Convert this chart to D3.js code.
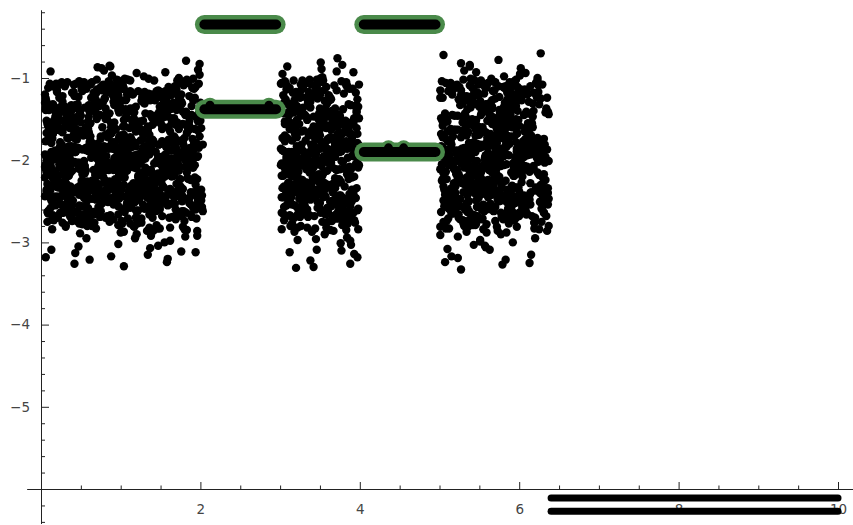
<!DOCTYPE html>
<html>
<head>
<meta charset="utf-8">
<script src="https://cdn.jsdelivr.net/npm/d3@7"></script>
<style>
  body { margin: 0; background: #fff; }
</style>
</head>
<body>
<div id="chart"></div>
<script>
// scatter block on 0..2
const aX = [
  0.12,1.57,0.84,1.93,0.31,1.12,0.66,1.78,0.05,1.41,0.97,0.23,1.65,0.49,1.86,0.74,1.29,0.17,1.03,1.99,
  0.58,1.34,0.09,1.72,0.91,0.38,1.51,0.27,1.88,0.69,1.16,0.44,2.01,0.81,1.47,0.14,1.24,0.63,1.81,0.35,
  1.09,0.52,1.69,0.21,1.95,0.77,1.38,0.06,1.59,0.99,0.41,1.83,0.29,1.21,0.88,1.67,0.13,1.44,0.56,1.91,
  0.72,1.06,0.33,1.75,0.19,1.53,0.94,0.47,1.27,1.97,0.61,0.08,1.36,0.83,1.62,0.26,1.14,0.71,1.89,0.43,
  1.49,0.16,0.96,1.79,0.54,1.31,0.07,1.73,0.87,0.39,1.18,2.02,0.64,1.55,0.24,1.01,0.79,1.85,0.11,1.42,
  0.93,1.63,0.36,1.26,0.68,1.96,0.22,1.08,0.51,1.71,0.85,0.15,1.39,1.87,0.62,1.19,0.34,1.58,0.98,0.76,
  1.84,0.45,1.11,0.18,1.66,0.89,1.32,0.57,2.03,0.28,1.45,0.73,1.04,0.10,1.76,0.53,1.22,0.92,1.61,0.37,
  0.65,1.90,0.25,1.35,0.82,1.54,0.06,1.17,0.46,1.80,0.95,0.32,1.68,1.00,0.59,1.43,0.20,1.94,0.78,1.28,
  1.13,0.42,1.74,0.70,1.50,0.11,1.02,1.92,0.55,1.25,0.86,0.30,1.64,0.97,1.37,0.19,1.82,0.61,1.07,0.48,
  1.56,0.80,0.14,1.30,1.98,0.67,1.20,0.40,1.70,0.90,0.08,1.46,0.75,1.88,0.33,1.10,0.60,1.60,0.24,1.34,
  0.87,1.78,0.50,1.15,0.21,1.52,0.96,1.95,0.35,1.27,0.71,1.05,0.16,1.67,0.83,1.40,0.44,1.85,0.63,1.23,
  0.09,1.62,1.01,0.57,1.81,0.28,1.36,0.79,2.00,0.47,1.18,0.92,1.48,0.13,1.73,0.66,1.06,0.38,1.58,0.85,
  1.97,0.31,1.12,0.74,1.44,0.05,1.69,0.53,1.29,0.98,0.20,1.90,0.62,1.16,0.42,1.54,0.88,1.77,0.27,1.03,
  0.69,1.39,0.17,1.84,0.94,1.22,0.46,1.63,0.07,1.08,0.78,1.93,0.36,1.49,0.59,1.31,0.99,0.25,1.71,0.52,
  1.26,0.84,1.57,0.12,1.99,0.64,1.14,0.39,1.76,0.91,0.22,1.42,0.73,1.87,0.49,1.04,1.65,0.30,1.19,0.81,
  0.55,1.80,0.95,0.18,1.35,0.68,1.59,0.06,1.96,0.43,1.25,0.86,1.52,0.26,1.11,0.72,1.70,0.37,1.45,0.97,
  1.83,0.29,1.07,0.60,1.64,0.14,1.33,0.89,1.91,0.50,1.17,0.76,1.47,0.10,1.74,0.41,1.02,1.56,0.65,1.28,
  0.33,1.68,0.82,1.21,0.08,1.88,0.58,1.40,0.94,0.20,1.61,0.70,1.99,0.47,1.13,0.87,1.37,0.15,1.79,1.05,
  0.62,1.51,0.24,1.15,0.79,1.86,0.40,1.30,0.98,0.11,1.72,0.54,1.24,0.90,1.55,0.32,2.02,0.75,1.09,0.45,
  1.43,0.18,1.66,0.85,1.20,0.52,1.94,0.28,1.00,0.67,1.48,0.07,1.78,0.96,1.34,0.39,1.62,0.80,1.12,0.23,
  0.92,1.73,0.44,1.27,0.13,1.59,0.71,1.90,0.57,1.05,0.34,1.41,0.83,1.85,0.19,1.16,0.64,1.53,0.99,0.48,
  1.69,0.27,1.10,0.77,1.46,0.05,1.82,0.61,1.23,0.93,0.37,1.64,0.74,1.97,0.43,1.29,0.88,1.58,0.16,1.07,
  0.54,1.36,0.86,1.75,0.21,1.18,0.66,1.50,0.10,1.92,0.81,1.03,0.45,1.67,0.30,1.39,0.97,1.81,0.60,1.25,
  1.12,0.73,1.60,0.35,1.87,0.91,0.15,1.44,0.69,1.21,0.50,1.76,0.26,1.08,1.96,0.63,1.32,0.84,1.54,0.40,
  0.78,1.63,0.20,1.19,0.95,1.84,0.46,1.37,0.09,1.71,0.59,1.14,0.87,1.49,0.32,2.01,0.72,1.28,0.51,1.66,
  1.45,0.12,1.01,0.68,1.79,0.38,1.26,0.90,1.56,0.24,1.93,0.76,1.16,0.55,1.38,0.07,1.70,0.99,0.42,1.85,
  0.64,1.31,0.85,1.52,0.17,1.89,0.48,1.09,0.73,1.65,0.33,1.22,0.96,1.77,0.56,1.42,0.14,1.04,1.61,0.80,
  1.35,0.58,1.95,0.29,1.17,0.70,1.47,0.06,1.83,0.89,1.27,0.44,1.68,0.22,1.00,0.61,1.58,0.93,1.13,1.74,
  0.27,1.83,0.62,1.14,0.08,1.49,0.93,1.71,0.41,1.26,0.79,1.98,0.18,1.57,0.55,1.05,1.36,0.33,1.90,0.70,
  1.44,0.12,1.02,0.58,1.77,0.36,1.21,0.85,1.64,0.05,1.31,0.97,0.47,1.86,0.23,1.10,0.66,1.53,0.89,2.01,
  0.74,1.60,0.30,1.17,1.93,0.52,1.40,0.14,1.08,0.81,1.69,0.43,1.25,0.96,0.20,1.80,0.60,1.34,0.07,1.50,
  1.12,0.39,1.74,0.87,0.16,1.45,0.68,1.96,0.31,1.03,1.58,0.49,1.29,0.76,1.87,0.11,1.19,0.94,0.56,1.67,
  0.84,1.37,0.21,1.62,0.99,0.45,1.82,0.64,1.15,0.06,1.47,0.73,1.91,0.35,1.24,0.90,0.13,1.56,1.00,0.53,
  1.70,0.28,1.07,0.59,1.42,0.17,1.88,0.80,1.33,0.48,1.61,0.09,0.95,1.78,0.37,1.20,0.71,1.52,0.24,2.02,
  0.44,1.16,0.86,1.95,0.19,1.38,0.63,1.73,0.10,1.27,0.92,0.32,1.59,1.04,0.54,1.84,0.78,1.11,0.26,1.46,
  1.66,0.50,1.22,0.07,1.89,0.69,1.35,0.98,0.15,1.55,0.40,1.79,0.82,1.09,0.29,1.63,0.57,1.99,0.88,1.30,
  0.22,1.48,0.75,1.13,1.85,0.34,1.01,0.61,1.72,0.12,1.39,0.91,0.46,1.94,0.67,1.18,0.05,1.58,0.83,1.28,
  1.06,0.58,1.81,0.25,1.34,0.97,0.14,1.65,0.72,1.23,0.42,1.92,0.87,0.31,1.51,1.08,0.65,1.76,0.18,1.43,
  0.53,1.90,0.38,1.20,0.80,1.60,0.09,1.37,0.95,0.27,1.74,0.62,1.14,1.97,0.47,1.02,0.74,1.54,0.20,1.83,
  1.31,0.16,0.99,1.68,0.56,1.26,0.36,1.87,0.85,1.10,0.06,1.45,0.69,1.77,0.43,1.17,0.93,0.24,1.62,0.77,
  1.93,0.60,1.40,0.11,1.06,0.81,1.72,0.33,1.24,0.51,1.85,0.96,0.19,1.49,0.70,1.33,0.08,1.58,1.00,0.39,
  0.66,1.79,0.29,1.15,0.90,1.55,0.45,2.00,0.13,1.28,0.76,1.67,0.57,1.04,0.23,1.41,0.86,1.88,0.35,1.19,
  1.50,0.05,0.92,1.75,0.48,1.36,0.18,1.63,1.01,0.71,1.96,0.27,1.12,0.83,1.45,0.55,1.81,0.10,1.22,0.63,
  0.37,1.27,0.79,1.91,0.15,1.52,0.97,0.50,1.69,0.06,1.09,0.73,1.38,0.30,1.84,0.88,1.16,0.61,1.59,1.03,
  1.78,0.41,1.13,0.68,1.47,0.21,1.97,0.85,1.30,0.12,1.64,0.58,1.05,0.94,0.34,1.73,0.47,1.25,0.77,1.90,
  0.96,0.26,1.57,1.11,0.64,1.86,0.40,1.35,0.08,1.70,0.82,1.20,0.53,1.44,0.17,1.99,0.72,1.07,1.61,0.32,
  1.42,0.87,0.11,1.67,0.59,1.24,0.44,1.80,0.98,0.20,1.53,0.75,1.17,1.92,0.38,1.02,0.64,1.32,0.06,1.76,
  0.49,1.08,1.83,0.31,1.48,0.91,0.16,1.63,0.69,1.29,0.55,2.03,0.84,1.14,0.27,1.56,1.00,0.42,1.71,0.78,
  1.21,0.67,1.94,0.14,1.39,0.80,1.06,0.52,1.74,0.35,1.18,0.95,0.07,1.60,0.71,1.88,0.46,1.27,0.89,1.50,
  0.19,1.65,0.57,1.11,0.86,1.85,0.28,1.43,0.74,1.00,0.39,1.78,0.62,1.33,0.10,1.55,0.93,1.19,0.50,1.96,
  1.36,0.81,0.24,1.72,1.04,0.45,1.58,0.13,1.26,0.70,1.89,0.36,1.09,0.98,0.58,1.66,0.21,1.46,0.85,1.15,
  0.63,1.92,0.33,1.49,0.77,1.13,0.09,1.81,0.54,1.23,0.92,1.62,0.18,1.39,0.68,1.01,0.43,1.75,0.30,1.57,
  1.05,0.52,1.70,0.25,1.44,0.88,1.98,0.61,1.16,0.37,1.53,0.79,0.12,1.87,0.95,1.30,0.48,1.68,0.73,1.08,
  0.41,1.28,0.90,1.63,0.15,1.12,0.66,1.83,0.32,1.47,1.01,0.56,1.76,0.22,1.37,0.84,1.94,0.60,1.20,0.07,
  1.59,0.75,1.34,0.47,1.91,0.97,0.29,1.52,0.82,1.07,0.16,1.73,0.64,1.41,0.38,1.86,0.93,1.17,0.53,1.66
];
const aY = [
  -2.11,-1.84,-2.37,-1.62,-2.03,-2.58,-1.95,-1.41,-2.21,-1.77,-2.66,-2.09,-1.88,-2.31,-1.53,-2.14,-0.98,-1.99,-2.44,-1.71,
  -2.26,-1.92,-1.58,-2.05,-2.72,-1.83,-2.17,-1.66,-2.39,-1.27,-2.01,-1.89,-2.49,-2.12,-3.04,-1.74,-2.28,-1.97,-1.45,-2.19,
  -1.81,-2.33,-2.07,-1.63,-2.55,-1.91,-2.24,-1.36,-2.02,-2.79,-1.69,-2.15,-1.87,-2.41,-1.55,-2.06,-1.79,-2.62,-2.13,-1.12,
  -2.35,-1.96,-1.73,-2.23,-1.49,-2.08,-2.51,-1.85,-2.16,-1.64,-3.21,-2.00,-1.93,-2.29,-1.38,-2.43,-1.76,-2.10,-2.69,-1.90,
  -2.04,-1.59,-2.27,-1.82,-2.46,-1.98,-1.67,-2.36,-0.86,-2.13,-1.79,-2.57,-1.94,-2.20,-1.51,-2.74,-1.86,-2.09,-1.72,-2.32,
  -1.97,-2.40,-1.61,-2.18,-1.89,-2.86,-1.44,-2.03,-2.25,-1.78,-2.12,-1.57,-2.61,-1.99,-2.34,-1.83,-2.07,-1.30,-2.47,-1.92,
  -2.22,-1.75,-2.52,-1.88,-2.01,-1.66,-2.38,-2.95,-1.81,-2.15,-1.48,-2.06,-2.30,-1.94,-2.68,-1.70,-2.19,-1.86,-1.19,-2.42,
  -1.80,-2.09,-2.54,-1.60,-2.27,-1.95,-2.11,-1.42,-2.64,-1.87,-2.02,-2.37,-1.73,-2.21,-1.53,-2.48,-1.91,-3.12,-2.05,-1.68,
  -2.31,-1.84,-2.08,-1.50,-2.42,-1.96,-2.77,-1.79,-2.14,-1.62,-2.26,-1.35,-1.98,-2.56,-1.90,-2.17,-0.79,-2.35,-1.76,-2.03,
  -1.93,-2.45,-1.69,-2.20,-1.85,-2.63,-2.00,-1.55,-2.29,-1.82,-2.10,-2.83,-1.74,-2.24,-1.46,-2.06,-1.89,-2.39,-1.64,-2.15,
  -2.50,-1.78,-2.12,-1.97,-2.33,-1.58,-2.07,-2.71,-1.83,-1.26,-2.19,-1.92,-2.44,-1.71,-2.02,-2.58,-1.87,-2.23,-1.40,-1.99,
  -2.16,-1.65,-2.36,-1.88,-2.93,-2.04,-1.77,-2.27,-1.52,-2.10,-1.94,-2.47,-1.81,-2.13,-1.62,-2.32,-2.00,-1.33,-2.53,-1.86,
  -1.95,-2.22,-1.72,-2.40,-1.90,-2.08,-1.57,-2.66,-1.84,-2.18,-1.47,-2.01,-2.30,-1.79,-3.26,-2.11,-1.68,-2.43,-1.96,-2.05,
  -2.28,-1.83,-2.14,-1.60,-2.52,-1.93,-2.03,-1.74,-2.38,-1.89,-1.08,-2.21,-1.97,-2.60,-1.70,-2.09,-1.85,-2.34,-1.56,-2.17,
  -1.91,-2.46,-1.80,-2.06,-1.43,-2.25,-1.98,-2.74,-1.76,-2.12,-1.63,-2.35,-1.87,-2.02,-2.89,-1.69,-2.19,-1.94,-2.41,-1.50,
  -2.07,-1.73,-2.31,-1.96,-2.57,-1.82,-2.15,-1.39,-2.23,-1.90,-2.04,-2.50,-1.77,-2.27,-1.61,-2.00,-1.86,-2.69,-1.24,-2.13,
  -1.88,-2.37,-2.02,-1.66,-2.20,-1.93,-2.45,-1.79,-2.09,-1.54,-2.81,-1.97,-2.16,-1.72,-2.33,-1.84,-2.06,-0.93,-2.26,-1.99,
  -2.40,-1.81,-2.11,-1.58,-2.29,-1.95,-2.62,-1.75,-2.03,-1.90,-2.18,-1.45,-2.53,-1.86,-2.08,-1.68,-3.07,-2.22,-1.92,-2.14,
  -1.76,-2.25,-1.97,-2.48,-1.83,-2.05,-1.62,-2.34,-1.89,-2.12,-1.31,-2.01,-2.39,-1.78,-2.20,-1.94,-2.59,-1.71,-2.07,-1.85,
  -2.18,-1.92,-2.43,-1.67,-2.10,-1.87,-2.30,-1.52,-2.00,-2.76,-1.81,-2.15,-1.95,-2.36,-1.59,-2.04,-1.88,-2.24,-1.16,-2.47,
  -1.98,-2.13,-1.73,-2.32,-1.90,-2.55,-1.80,-2.07,-1.64,-2.21,-1.94,-2.86,-1.84,-2.02,-1.48,-2.28,-1.96,-2.11,-1.70,-2.42,
  -2.06,-1.85,-2.38,-1.60,-2.17,-1.93,-2.64,-1.78,-2.01,-2.23,-1.37,-2.09,-1.89,-2.49,-1.74,-2.14,-3.17,-1.97,-2.31,-1.82,
  -2.26,-1.69,-2.04,-1.91,-2.45,-1.79,-2.12,-1.55,-2.35,-1.87,-2.70,-1.99,-1.63,-2.19,-1.93,-2.40,-1.21,-2.08,-1.83,-2.16,
  -1.94,-2.30,-1.75,-2.09,-1.86,-2.51,-1.68,-2.22,-1.97,-2.05,-1.46,-2.37,-1.81,-2.13,-2.92,-1.90,-2.27,-1.72,-2.00,-1.58,
  -2.20,-1.88,-2.44,-1.65,-2.03,-1.92,-2.33,-1.77,-2.15,-1.03,-2.58,-1.84,-2.10,-1.96,-2.29,-1.61,-2.07,-1.89,-2.67,-1.80,
  -2.01,-2.36,-1.71,-2.18,-1.95,-1.51,-2.24,-1.86,-2.47,-1.78,-2.06,-1.93,-2.80,-1.69,-2.12,-1.98,-2.39,-1.34,-2.02,-1.87,
  -2.32,-1.83,-2.08,-1.62,-2.26,-1.94,-2.55,-1.76,-2.00,-2.14,-1.44,-2.21,-1.91,-2.62,-1.85,-2.04,-1.73,-3.29,-2.17,-1.97,
  -1.90,-2.41,-1.79,-2.11,-1.57,-2.28,-1.96,-2.05,-1.67,-2.34,-1.88,-2.73,-1.82,-2.19,-1.99,-1.41,-2.09,-2.46,-1.74,-2.23,
  -1.22,-2.47,-1.08,-1.51,-2.63,-1.35,-2.38,-1.94,-1.17,-2.71,-0.91,-1.43,-2.55,-1.28,-2.16,-1.59,-2.82,-1.05,-1.74,-2.41,
  -1.46,-2.58,-1.13,-2.34,-1.31,-1.89,-2.77,-1.04,-1.55,-2.44,-1.26,-3.02,-1.38,-2.52,-2.05,-1.19,-2.66,-1.48,-0.97,-2.36,
  -2.69,-1.11,-1.40,-2.49,-1.24,-2.31,-1.57,-2.84,-1.02,-1.69,-2.60,-1.33,-2.42,-1.86,-1.15,-2.74,-1.47,-3.15,-1.29,-2.53,
  -1.37,-2.40,-1.06,-2.67,-1.52,-1.21,-2.33,-1.96,-2.79,-1.10,-1.44,-2.56,-1.30,-0.88,-2.45,-1.63,-2.70,-1.18,-2.12,-1.49,
  -2.51,-1.27,-1.58,-2.35,-1.09,-2.62,-1.41,-2.80,-1.20,-1.77,-2.46,-1.34,-1.01,-2.58,-1.53,-2.29,-3.09,-1.16,-1.91,-2.73,
  -1.14,-2.64,-1.45,-2.37,-1.03,-1.61,-2.54,-1.25,-2.86,-1.39,-2.07,-1.12,-2.48,-1.56,-2.32,-0.94,-1.32,-2.68,-1.83,-2.43,
  -2.39,-1.19,-2.75,-1.48,-1.07,-2.50,-1.36,-1.98,-2.61,-1.23,-1.54,-2.33,-3.20,-1.13,-2.44,-1.65,-1.29,-2.57,-1.05,-2.26,
  -1.50,-2.66,-1.16,-2.41,-1.34,-2.83,-1.01,-1.72,-2.52,-1.28,-2.36,-1.09,-1.44,-2.71,-1.88,-1.21,-2.47,-0.83,-1.60,-2.59,
  -2.30,-1.42,-2.62,-1.18,-1.57,-2.45,-1.06,-2.78,-1.35,-2.02,-1.24,-2.54,-1.47,-1.11,-2.38,-2.95,-1.30,-1.79,-2.68,-1.52,
  -1.27,-2.49,-1.04,-1.62,-2.34,-1.39,-2.72,-1.15,-2.57,-1.93,-1.48,-2.40,-1.08,-2.81,-1.33,-1.20,-2.63,-3.11,-1.55,-2.44,
  -2.56,-1.12,-1.40,-2.69,-1.25,-2.37,-1.58,-2.14,-1.02,-2.76,-1.36,-1.71,-2.46,-0.90,-1.23,-2.60,-1.45,-2.33,-1.17,-2.85,
  -1.43,-2.31,-1.10,-2.53,-1.61,-1.28,-2.67,-1.85,-1.05,-2.42,-1.38,-2.79,-1.19,-2.50,-1.54,-2.09,-1.31,-2.64,-2.98,-1.14,
  -2.40,-1.33,-2.70,-1.07,-1.49,-2.36,-1.22,-2.58,-1.64,-1.13,-2.47,-1.97,-1.37,-2.83,-1.02,-2.31,-1.56,-3.24,-1.27,-2.55,
  -1.18,-2.62,-1.52,-2.35,-1.09,-1.42,-2.74,-1.30,-2.49,-1.74,-1.15,-2.39,-1.60,-2.87,-1.24,-2.18,-0.85,-1.46,-2.59,-1.35,
  -2.48,-1.20,-1.63,-2.32,-1.04,-2.66,-1.41,-2.53,-1.11,-1.82,-2.44,-1.29,-2.77,-1.50,-1.16,-2.37,-2.00,-1.39,-2.61,-1.06,
  -1.55,-2.43,-1.14,-2.58,-1.32,-2.30,-1.03,-1.68,-2.72,-1.25,-2.50,-1.45,-2.92,-1.10,-1.90,-2.34,-1.37,-2.65,-1.21,-1.59,
  -2.35,-1.08,-2.55,-1.40,-1.23,-2.69,-1.53,-2.11,-1.17,-2.46,-1.34,-2.80,-1.01,-1.62,-2.39,-1.28,-3.05,-1.76,-2.52,-1.12,
  -1.31,-2.64,-1.47,-2.38,-1.05,-1.58,-2.49,-1.19,-2.75,-1.39,-1.95,-2.33,-1.09,-2.57,-1.52,-0.96,-2.42,-1.26,-2.70,-1.44,
  -2.60,-1.15,-1.35,-2.45,-1.61,-2.31,-1.07,-2.84,-1.42,-2.21,-1.24,-2.54,-1.50,-1.13,-2.67,-1.80,-1.33,-2.40,-3.18,-1.20,
  -1.41,-2.52,-1.02,-1.57,-2.37,-1.29,-2.73,-1.16,-2.48,-1.66,-1.36,-2.62,-1.11,-2.04,-2.33,-1.46,-2.88,-1.22,-1.54,-2.44,
  -2.32,-1.26,-2.59,-1.10,-1.48,-2.41,-1.38,-2.78,-1.04,-1.73,-2.51,-1.21,-2.36,-1.60,-0.87,-2.66,-1.32,-1.99,-2.46,-1.17,
  -1.50,-2.69,-1.13,-2.34,-1.43,-1.06,-2.56,-1.27,-2.42,-1.87,-1.18,-2.81,-1.55,-2.30,-1.34,-3.00,-1.09,-2.61,-1.64,-2.38,
  -2.47,-1.37,-1.08,-2.64,-1.51,-2.35,-1.23,-2.10,-2.76,-1.14,-1.45,-2.53,-1.02,-2.43,-1.68,-1.30,-2.70,-1.19,-2.32,-1.56,
  -1.24,-2.39,-1.59,-2.57,-1.12,-1.40,-2.65,-1.92,-1.05,-2.48,-1.33,-2.82,-1.47,-1.20,-2.36,-1.70,-3.13,-1.28,-2.54,-1.39,
  -2.63,-1.16,-2.44,-1.35,-1.53,-2.31,-1.07,-2.71,-1.42,-2.15,-1.25,-2.50,-0.92,-1.62,-2.40,-1.31,-2.77,-1.10,-1.84,-2.58,
  -1.36,-2.54,-1.21,-1.49,-2.67,-1.03,-2.37,-1.58,-2.45,-1.15,-1.96,-2.73,-1.29,-2.33,-1.44,-1.08,-2.60,-1.38,-2.90,-1.52,
  -2.42,-1.11,-1.65,-2.35,-1.27,-2.79,-1.41,-2.07,-1.18,-2.56,-1.34,-1.00,-2.47,-1.55,-2.64,-1.22,-1.78,-2.38,-1.06,-2.69
];

// scatter block on 3..4
const bX = [
  3.12,3.67,3.35,3.91,3.04,3.48,3.79,3.22,3.58,3.96,3.30,3.71,3.15,3.53,3.86,3.41,3.08,3.63,3.27,3.99,
  3.44,3.19,3.82,3.55,3.02,3.74,3.37,3.93,3.25,3.61,3.10,3.50,3.88,3.33,3.69,3.06,3.46,3.77,3.21,3.57,
  3.84,3.29,3.65,3.13,3.52,3.95,3.39,3.72,3.07,3.60,3.24,3.89,3.43,3.17,3.76,3.34,3.98,3.49,3.11,3.66,
  3.31,3.80,3.05,3.56,3.42,3.90,3.20,3.68,3.36,3.03,3.75,3.47,3.14,3.85,3.59,3.28,3.94,3.40,3.70,3.18,
  3.62,3.09,3.51,3.87,3.26,3.73,3.45,3.16,3.97,3.38,3.64,3.01,3.54,3.81,3.23,3.92,3.32,3.78,3.48,3.12,
  3.57,3.93,3.30,3.04,3.70,3.44,3.83,3.21,3.61,3.35,3.96,3.08,3.53,3.26,3.79,3.15,3.66,3.40,3.88,3.19,
  3.74,3.27,3.50,3.91,3.13,3.63,3.37,3.06,3.85,3.55,3.22,3.99,3.42,3.71,3.10,3.58,3.33,3.82,3.46,3.02,
  3.39,3.68,3.17,3.89,3.52,3.24,3.77,3.05,3.60,3.95,3.29,3.47,3.14,3.73,3.36,3.86,3.20,3.64,3.09,3.54,
  3.80,3.43,3.11,3.67,3.34,3.97,3.25,3.56,3.07,3.75,3.49,3.18,3.90,3.31,3.62,3.03,3.84,3.41,3.72,3.28,
  3.15,3.59,3.92,3.38,3.69,3.04,3.51,3.83,3.23,3.65,3.12,3.45,3.98,3.32,3.76,3.19,3.57,3.87,3.08,3.48,
  3.66,3.21,3.78,3.44,3.01,3.60,3.35,3.94,3.16,3.53,3.81,3.27,3.70,3.06,3.42,3.90,3.30,3.63,3.13,3.85,
  3.50,3.10,3.74,3.37,3.96,3.22,3.58,3.05,3.68,3.40,3.88,3.17,3.55,3.29,3.79,3.46,3.02,3.64,3.33,3.93,
  3.24,3.71,3.14,3.52,3.86,3.39,3.07,3.61,3.31,3.99,3.45,3.20,3.77,3.56,3.11,3.67,3.36,3.82,3.26,3.59,
  3.91,3.47,3.18,3.73,3.03,3.62,3.34,3.87,3.28,3.54,3.09,3.80,3.43,3.15,3.69,3.38,3.95,3.23,3.57,3.12,
  3.76,3.32,3.66,3.08,3.49,3.89,3.19,3.63,3.41,3.97,3.27,3.70,3.05,3.53,3.84,3.35,3.14,3.60,3.44,3.78,
  3.27,3.81,3.09,3.55,3.92,3.38,3.66,3.14,3.49,3.87,3.03,3.72,3.31,3.60,3.19,3.96,3.44,3.77,3.06,3.52,
  3.68,3.22,3.85,3.41,3.11,3.58,3.94,3.33,3.74,3.02,3.47,3.89,3.25,3.63,3.16,3.80,3.37,3.99,3.53,3.12,
  3.43,3.91,3.18,3.70,3.35,3.05,3.61,3.83,3.28,3.50,3.97,3.21,3.76,3.40,3.08,3.65,3.32,3.88,3.56,3.15,
  3.79,3.36,3.01,3.57,3.93,3.24,3.69,3.45,3.13,3.84,3.30,3.62,3.07,3.51,3.95,3.39,3.73,3.20,3.86,3.48,
  3.10,3.64,3.42,3.90,3.26,3.54,3.17,3.78,3.04,3.67,3.34,3.98,3.46,3.23,3.82,3.59,3.12,3.71,3.37,3.93,
  3.55,3.29,3.75,3.08,3.48,3.86,3.19,3.63,3.40,3.96,3.02,3.58,3.31,3.80,3.14,3.52,3.89,3.25,3.69,3.44,
  3.92,3.16,3.60,3.35,3.07,3.77,3.50,3.22,3.85,3.41,3.66,3.11,3.97,3.28,3.54,3.74,3.05,3.47,3.83,3.33,
  3.21,3.70,3.45,3.91,3.13,3.58,3.37,3.03,3.81,3.62,3.26,3.99,3.49,3.18,3.73,3.39,3.87,3.09,3.56,3.30,
  3.66,3.04,3.88,3.43,3.24,3.79,3.53,3.15,3.94,3.32,3.61,3.08,3.75,3.46,3.20,3.84,3.38,3.57,3.12,3.71,
  3.35,3.90,3.17,3.64,3.48,3.01,3.82,3.27,3.59,3.95,3.42,3.10,3.68,3.34,3.86,3.23,3.51,3.77,3.06,3.44,
  3.78,3.29,3.55,3.13,3.97,3.40,3.72,3.06,3.50,3.85,3.19,3.63,3.36,3.92,3.25,3.58,3.11,3.81,3.45,3.67,
  3.09,3.53,3.83,3.30,3.65,3.18,3.89,3.41,3.02,3.74,3.57,3.26,3.95,3.47,3.14,3.70,3.35,3.60,3.22,3.87,
  3.50,3.12,3.76,3.39,3.93,3.23,3.61,3.05,3.84,3.45,3.31,3.69,3.16,3.98,3.54,3.28,3.80,3.42,3.07,3.64
];
const bY = [
  -2.08,-1.73,-2.41,-1.95,-2.19,-1.58,-2.63,-1.86,-2.02,-2.34,-1.44,-2.12,-1.90,-2.75,-1.67,-2.25,-1.99,-2.50,-1.81,-2.06,
  -1.92,-2.29,-1.62,-2.15,-2.84,-1.78,-2.04,-1.49,-2.38,-1.87,-2.10,-1.21,-2.56,-1.96,-2.22,-1.70,-3.09,-2.01,-1.83,-2.44,
  -2.17,-1.89,-2.68,-1.55,-2.07,-1.94,-2.31,-0.76,-2.13,-1.75,-2.47,-1.85,-2.00,-1.39,-2.27,-1.98,-2.59,-1.65,-2.09,-1.91,
  -2.36,-1.80,-2.05,-2.90,-1.69,-2.21,-1.93,-1.52,-2.43,-1.88,-2.11,-1.74,-2.53,-1.97,-1.31,-2.24,-1.84,-2.16,-2.71,-1.60,
  -2.01,-2.33,-1.77,-2.08,-1.46,-2.49,-1.91,-2.18,-1.68,-3.22,-2.03,-1.86,-2.40,-1.57,-2.14,-1.95,-2.61,-1.82,-2.26,-1.12,
  -1.99,-2.20,-1.64,-2.45,-1.88,-2.06,-2.78,-1.72,-2.30,-1.94,-1.42,-2.12,-1.83,-2.57,-2.02,-1.76,-2.35,-1.90,-2.98,-1.61,
  -2.23,-1.87,-2.52,-1.71,-2.04,-1.97,-2.37,-1.53,-2.15,-1.80,-2.66,-1.93,-2.09,-0.92,-2.28,-1.85,-2.43,-1.66,-2.00,-2.19,
  -1.81,-2.48,-1.96,-2.11,-1.59,-2.32,-1.89,-2.73,-1.75,-2.05,-1.36,-2.24,-1.92,-2.55,-1.70,-2.14,-3.31,-1.98,-2.39,-1.84,
  -2.10,-1.63,-2.27,-1.95,-2.60,-1.79,-2.03,-1.48,-2.42,-1.90,-2.17,-2.87,-1.73,-2.07,-1.25,-2.34,-1.86,-2.21,-1.68,-2.50,
  -1.97,-2.13,-1.56,-2.38,-1.82,-2.65,-2.00,-1.77,-2.22,-1.40,-2.46,-1.88,-2.09,-1.94,-3.01,-1.69,-2.31,-1.83,-2.16,-1.60,
  -2.29,-1.91,-2.58,-1.74,-2.06,-1.45,-2.36,-1.87,-2.12,-1.99,-2.70,-1.65,-2.25,-1.04,-2.02,-1.80,-2.44,-1.93,-2.18,-1.54,
  -1.86,-2.40,-1.71,-2.15,-1.97,-2.82,-1.61,-2.08,-2.33,-1.84,-1.33,-2.20,-1.95,-2.51,-1.78,-2.04,-2.64,-1.89,-2.11,-3.14,
  -2.07,-1.79,-2.45,-1.58,-2.23,-1.92,-2.13,-1.47,-2.37,-1.82,-2.96,-2.01,-1.69,-2.28,-1.90,-2.54,-1.17,-2.10,-1.85,-2.32,
  -1.94,-2.18,-1.66,-2.62,-1.88,-2.05,-1.51,-2.41,-1.98,-2.27,-1.73,-2.77,-1.83,-2.12,-1.37,-2.48,-1.91,-2.00,-2.35,-1.62,
  -2.26,-1.76,-2.09,-1.96,-2.57,-1.68,-2.14,-2.85,-1.81,-2.03,-1.43,-2.30,-1.89,-2.19,-1.55,-2.69,-2.01,-1.74,-2.42,-0.84,
  -1.23,-2.49,-1.10,-1.55,-2.64,-1.36,-2.39,-1.97,-1.16,-2.72,-0.95,-1.44,-2.56,-1.29,-2.15,-1.61,-2.83,-1.04,-1.77,-2.42,
  -1.47,-2.58,-1.12,-2.35,-1.32,-1.87,-2.76,-1.06,-1.54,-2.45,-1.25,-3.03,-1.39,-2.51,-2.08,-1.19,-2.67,-1.49,-0.99,-2.37,
  -2.68,-1.13,-1.41,-2.48,-1.22,-2.32,-1.58,-2.85,-1.03,-1.70,-2.61,-1.34,-2.43,-1.84,-1.14,-2.74,-1.46,-3.26,-1.28,-2.54,
  -1.38,-2.41,-1.07,-2.66,-1.51,-1.20,-2.34,-1.93,-2.80,-1.09,-1.45,-2.57,-1.31,-0.81,-2.46,-1.64,-2.71,-1.17,-2.13,-1.50,
  -2.52,-1.26,-1.59,-2.36,-1.08,-2.63,-1.42,-2.79,-1.21,-1.76,-2.47,-1.35,-1.02,-2.59,-1.52,-2.30,-3.12,-1.15,-1.90,-2.73,
  -1.15,-2.65,-1.46,-2.38,-1.04,-1.62,-2.55,-1.24,-2.87,-1.40,-2.04,-1.11,-2.49,-1.57,-2.33,-0.89,-1.33,-2.69,-1.82,-2.44,
  -2.40,-1.18,-2.75,-1.49,-1.06,-2.50,-1.37,-1.99,-2.62,-1.22,-1.53,-2.31,-3.18,-1.12,-2.45,-1.66,-1.30,-2.58,-1.05,-2.27,
  -1.51,-2.66,-1.17,-2.42,-1.35,-2.82,-1.02,-1.73,-2.53,-1.27,-2.37,-1.08,-1.43,-2.70,-1.88,-1.20,-2.48,-0.86,-1.60,-2.60,
  -2.30,-1.43,-2.63,-1.19,-1.56,-2.46,-1.05,-2.77,-1.34,-2.01,-1.23,-2.55,-1.48,-1.10,-2.39,-2.94,-1.29,-1.78,-2.67,-1.53,
  -1.28,-2.50,-1.03,-1.63,-2.35,-1.38,-2.73,-1.14,-2.58,-1.95,-1.47,-2.41,-1.09,-2.82,-1.32,-1.21,-2.64,-3.10,-1.56,-2.45,
  -2.57,-1.11,-1.39,-2.68,-1.26,-2.36,-1.59,-2.17,-1.01,-2.77,-1.35,-1.72,-2.47,-0.93,-1.24,-2.61,-1.46,-2.32,-1.16,-2.86,
  -1.42,-2.32,-1.09,-2.54,-1.60,-1.27,-2.66,-1.86,-1.06,-2.43,-1.37,-2.80,-1.18,-2.51,-1.55,-2.11,-1.30,-2.63,-2.97,-1.13,
  -2.41,-1.32,-2.71,-1.08,-1.50,-2.37,-1.21,-2.57,-1.65,-1.12,-2.48,-1.96,-1.36,-2.84,-1.03,-2.30,-1.57,-3.30,-1.26,-2.56
];

// scatter block on 5..6.4
const cX = [
  5.12,5.87,5.43,6.21,5.05,5.66,6.04,5.31,5.95,5.54,6.33,5.19,5.78,5.38,6.12,5.61,5.08,5.91,5.47,6.27,
  5.70,5.24,6.08,5.52,5.01,5.83,5.35,6.17,5.63,5.15,5.99,5.44,6.36,5.28,5.75,5.06,5.58,6.02,5.40,5.89,
  6.25,5.33,5.80,5.10,5.67,6.14,5.49,5.97,5.22,5.73,6.30,5.04,5.57,5.86,5.37,6.06,5.65,5.13,5.93,5.45,
  5.60,6.19,5.27,5.84,5.02,5.52,6.10,5.41,5.76,6.35,5.18,5.69,5.95,5.32,6.01,5.09,5.55,6.23,5.46,5.81,
  5.36,5.92,5.14,6.07,5.63,5.25,6.28,5.50,5.79,5.07,5.98,5.42,6.15,5.71,5.20,5.87,5.59,6.32,5.03,5.74,
  6.03,5.48,5.82,5.11,6.20,5.64,5.30,5.94,5.39,6.11,5.56,5.01,5.85,5.26,6.37,5.68,5.16,5.97,5.51,6.09,
  5.23,5.77,6.26,5.34,5.62,5.06,5.90,5.45,6.13,5.72,5.17,6.00,5.53,5.83,5.29,6.22,5.66,5.10,5.96,5.40,
  5.88,5.13,5.58,6.18,5.44,5.99,5.21,5.70,6.31,5.35,5.81,5.04,5.61,6.05,5.48,5.93,5.27,5.75,6.14,5.55,
  5.31,6.08,5.67,5.02,5.86,5.43,6.24,5.19,5.73,5.98,5.38,6.35,5.60,5.12,5.91,5.50,6.02,5.25,5.80,5.09,
  5.95,5.42,6.16,5.57,5.15,5.84,5.33,6.29,5.69,5.05,5.78,5.46,6.10,5.22,5.92,5.64,5.36,6.04,5.52,5.87,
  5.18,5.74,5.47,6.23,5.03,5.89,5.60,5.28,6.12,5.40,5.97,5.55,6.33,5.14,5.71,5.37,6.06,5.82,5.24,5.65,
  6.01,5.30,5.85,5.08,5.63,6.19,5.49,5.77,5.20,6.09,5.41,5.94,5.58,6.27,5.11,5.68,5.35,5.99,5.53,6.15,
  5.44,5.96,5.16,5.79,6.30,5.34,5.62,5.07,5.90,5.51,6.20,5.27,5.73,6.03,5.39,5.86,5.01,5.66,6.11,5.45,
  5.83,5.21,6.07,5.56,5.12,5.92,5.70,6.36,5.32,5.76,5.04,5.59,6.17,5.43,5.88,5.26,6.00,5.67,5.15,5.95,
  5.57,6.13,5.38,5.81,5.06,5.98,5.48,6.25,5.64,5.19,5.87,5.31,6.08,5.72,5.42,6.34,5.10,5.78,5.54,6.02,
  5.29,5.69,6.21,5.45,5.93,5.13,5.75,6.05,5.36,5.61,6.31,5.08,5.84,5.50,6.14,5.23,5.97,5.66,5.40,5.89,
  6.10,5.52,5.17,5.80,6.26,5.37,5.71,5.02,5.94,5.58,6.18,5.25,5.85,5.46,6.04,5.33,5.77,5.14,5.99,5.62,
  5.47,5.91,5.20,6.12,5.65,5.35,5.82,6.29,5.09,5.74,5.41,6.07,5.56,5.96,5.28,5.68,6.22,5.16,5.86,5.51,
  5.76,5.05,5.60,6.16,5.39,5.88,5.22,5.70,6.37,5.45,5.99,5.31,5.64,6.09,5.12,5.83,5.53,6.24,5.34,5.79,
  6.06,5.43,5.93,5.18,5.67,6.20,5.50,5.81,5.03,5.73,6.13,5.27,5.90,5.57,5.11,6.00,5.36,5.84,6.32,5.63,
  5.27,6.13,5.58,5.04,5.91,5.39,6.26,5.72,5.15,5.84,5.46,6.07,5.21,5.66,6.31,5.33,5.97,5.52,5.09,5.78,
  5.63,5.12,6.02,5.44,5.87,5.25,6.19,5.70,5.36,5.95,5.01,5.57,6.34,5.19,5.81,5.48,6.10,5.30,5.74,5.06,
  6.00,5.41,5.76,5.17,6.22,5.55,5.89,5.08,5.65,6.15,5.32,5.93,5.45,5.03,5.69,6.28,5.23,5.83,5.51,6.05,
  5.35,5.86,5.13,6.09,5.60,5.28,6.36,5.75,5.42,5.98,5.07,5.67,6.17,5.38,5.90,5.20,5.54,6.24,5.47,5.80,
  5.92,5.24,5.71,6.30,5.49,5.02,5.85,5.37,6.11,5.62,5.16,5.96,5.43,6.04,5.29,5.78,5.10,5.68,6.20,5.53,
  5.18,5.77,6.06,5.40,5.94,5.14,5.64,6.27,5.34,5.82,5.56,6.14,5.05,5.73,5.45,6.01,5.26,5.88,5.61,6.33,
  5.50,6.18,5.31,5.79,5.08,5.97,5.66,5.22,6.08,5.41,5.86,6.32,5.15,5.59,5.93,5.36,6.12,5.70,5.03,5.83,
  5.96,5.44,5.11,5.74,6.25,5.55,5.30,5.90,5.17,6.03,5.64,5.38,6.15,5.80,5.06,5.49,6.37,5.27,5.76,5.12,
  5.68,6.09,5.37,5.85,5.04,5.61,6.21,5.46,5.92,5.19,5.75,6.30,5.33,5.57,6.00,5.23,5.89,5.42,6.16,5.09,
  5.41,5.81,6.23,5.14,5.67,5.98,5.29,6.07,5.52,5.01,5.87,5.35,6.29,5.72,5.47,5.95,5.20,5.63,6.11,5.84,
  6.04,5.25,5.78,5.48,6.35,5.10,5.70,5.92,5.39,6.19,5.58,5.05,5.83,5.31,6.02,5.65,5.16,5.97,5.44,5.73,
  5.32,5.91,5.13,6.14,5.54,5.86,5.24,6.26,5.69,5.07,5.79,5.45,6.09,5.37,5.94,5.18,5.62,6.31,5.51,5.99,
  5.85,5.40,6.20,5.60,5.02,5.76,5.34,6.05,5.49,5.89,5.21,6.33,5.66,5.12,5.96,5.43,5.71,6.13,5.28,5.55,
  5.14,5.68,5.99,5.36,6.24,5.53,5.09,5.82,5.46,6.08,5.27,5.74,6.17,5.59,5.04,5.93,5.38,5.77,6.28,5.50,
  5.73,6.10,5.23,5.64,5.95,5.41,6.36,5.16,5.80,5.55,6.01,5.30,5.87,5.06,5.67,6.21,5.47,5.90,5.19,5.61,
  6.15,5.35,5.84,5.11,5.58,6.27,5.44,5.97,5.26,5.70,6.06,5.52,5.01,5.83,5.40,6.32,5.65,5.15,5.92,5.48,
  5.57,5.22,5.91,6.18,5.39,5.78,5.08,5.63,6.03,5.49,5.86,5.31,6.23,5.72,5.17,5.96,5.43,6.12,5.34,5.81,
  5.29,6.00,5.66,5.12,5.88,5.47,6.30,5.56,5.05,5.75,6.14,5.37,5.94,5.21,5.69,6.08,5.51,5.85,5.24,6.37
];
const cY = [
  -2.05,-1.78,-2.38,-1.93,-2.16,-1.56,-2.61,-1.85,-2.01,-2.29,-1.42,-2.11,-1.89,-2.72,-1.66,-2.24,-1.98,-2.49,-1.80,-0.70,
  -1.91,-2.27,-1.61,-2.14,-2.81,-1.76,-2.03,-1.47,-2.36,-1.86,-2.09,-1.18,-2.54,-1.95,-2.20,-1.69,-3.06,-2.00,-1.82,-2.43,
  -2.18,-1.88,-2.66,-1.53,-2.06,-1.92,-2.30,-1.27,-2.12,-1.74,-2.46,-1.84,-1.99,-1.37,-2.26,-1.96,-2.58,-1.64,-2.08,-1.90,
  -2.35,-1.79,-2.04,-2.88,-1.68,-2.22,-1.94,-1.50,-2.42,-1.87,-2.10,-1.73,-2.52,-1.97,-0.95,-2.23,-1.83,-2.15,-2.70,-1.59,
  -2.00,-2.32,-1.76,-2.07,-1.45,-2.48,-1.90,-2.17,-1.67,-3.24,-2.02,-1.85,-2.39,-1.56,-2.13,-1.94,-2.60,-1.81,-2.25,-1.10,
  -1.98,-2.21,-1.63,-2.44,-1.87,-2.05,-2.77,-1.71,-2.31,-1.93,-1.40,-2.11,-1.82,-2.56,-2.01,-1.75,-2.34,-1.89,-2.97,-1.60,
  -2.22,-1.86,-2.51,-1.70,-2.03,-1.96,-2.37,-1.52,-2.14,-1.79,-2.65,-1.92,-2.08,-1.30,-2.28,-1.84,-2.42,-1.65,-1.99,-2.19,
  -1.80,-2.47,-1.95,-2.10,-1.58,-2.33,-1.88,-2.74,-1.74,-2.04,-1.35,-2.23,-1.91,-2.55,-1.69,-2.13,-3.33,-1.97,-2.40,-1.83,
  -2.09,-1.62,-2.26,-1.94,-2.59,-1.78,-2.02,-1.46,-2.41,-1.89,-2.16,-2.86,-1.72,-2.06,-1.23,-2.33,-1.85,-2.20,-1.67,-2.49,
  -1.96,-2.12,-1.55,-2.37,-1.81,-2.64,-1.99,-1.76,-2.21,-0.72,-2.45,-1.87,-2.08,-1.93,-3.00,-1.68,-2.30,-1.82,-2.15,-1.59,
  -2.28,-1.90,-2.57,-1.73,-2.05,-1.44,-2.35,-1.86,-2.11,-1.98,-2.69,-1.64,-2.24,-1.06,-2.01,-1.79,-2.43,-1.92,-2.17,-1.53,
  -1.85,-2.39,-1.70,-2.14,-1.96,-2.83,-1.60,-2.07,-2.32,-1.83,-1.32,-2.19,-1.94,-2.50,-1.77,-2.03,-2.63,-1.88,-2.10,-3.15,
  -2.06,-1.78,-2.44,-1.57,-2.22,-1.91,-2.12,-1.48,-2.36,-1.81,-2.95,-2.00,-1.68,-2.27,-1.89,-2.53,-1.15,-2.09,-1.84,-2.31,
  -1.93,-2.17,-1.65,-2.62,-1.87,-2.04,-1.50,-2.40,-1.97,-2.26,-1.72,-2.78,-1.82,-2.11,-1.36,-2.47,-1.90,-1.99,-2.34,-1.61,
  -2.25,-1.75,-2.08,-1.95,-2.56,-1.67,-2.13,-2.84,-1.80,-2.02,-1.42,-2.29,-1.88,-2.18,-1.54,-2.68,-2.00,-1.73,-2.41,-0.88,
  -2.03,-1.84,-2.33,-1.62,-2.19,-1.94,-2.50,-1.77,-2.10,-1.41,-2.64,-1.90,-2.05,-1.69,-2.28,-3.19,-1.86,-2.15,-1.57,-2.38,
  -1.92,-2.24,-1.71,-2.46,-1.98,-1.28,-2.12,-1.83,-2.73,-1.66,-2.07,-1.96,-2.36,-1.51,-2.20,-1.88,-2.90,-1.79,-2.01,-2.30,
  -2.14,-1.60,-2.40,-1.87,-2.02,-2.58,-1.74,-2.18,-1.93,-1.47,-2.27,-1.81,-2.09,-2.67,-1.64,-2.23,-1.97,-1.20,-2.45,-1.85,
  -1.99,-2.32,-1.76,-2.11,-1.55,-2.52,-1.91,-2.06,-2.80,-1.70,-2.16,-1.89,-2.37,-1.43,-2.04,-1.82,-2.60,-1.95,-2.21,-3.27,
  -2.12,-1.86,-2.48,-1.63,-2.00,-1.78,-2.25,-0.98,-2.08,-1.92,-2.43,-1.72,-2.15,-1.97,-2.71,-1.58,-2.31,-1.84,-2.03,-1.38,
  -1.21,-2.48,-1.09,-1.53,-2.62,-1.36,-2.40,-1.95,-1.16,-2.70,-0.93,-1.44,-2.57,-1.27,-2.17,-1.60,-2.81,-1.03,-1.75,-2.43,
  -1.46,-2.59,-1.14,-2.33,-1.30,-1.88,-2.76,-1.05,-1.56,-2.45,-1.24,-3.04,-1.37,-2.52,-2.06,-1.18,-2.65,-1.49,-0.78,-2.36,
  -2.68,-1.12,-1.42,-2.50,-1.23,-2.31,-1.57,-2.83,-1.01,-1.70,-2.60,-1.33,-2.41,-1.85,-1.15,-2.75,-1.46,-3.21,-1.28,-2.55,
  -1.38,-2.39,-1.07,-2.66,-1.52,-1.20,-2.34,-1.97,-2.79,-1.11,-1.43,-2.56,-1.31,-0.86,-2.46,-1.63,-2.71,-1.17,-2.11,-1.48,
  -2.51,-1.26,-1.59,-2.35,-1.08,-2.63,-1.40,-2.80,-1.19,-1.78,-2.47,-1.34,-1.02,-2.58,-1.54,-2.30,-3.08,-1.15,-1.92,-2.72,
  -1.13,-2.64,-1.45,-2.38,-1.04,-1.62,-2.53,-1.25,-2.87,-1.39,-2.05,-1.10,-2.49,-1.55,-2.32,-0.97,-1.33,-2.69,-1.83,-2.42,
  -2.39,-1.18,-2.74,-1.48,-1.06,-2.51,-1.35,-1.99,-2.61,-1.22,-1.53,-2.34,-3.17,-1.12,-2.44,-1.66,-1.29,-2.57,-1.04,-2.25,
  -1.50,-2.67,-1.16,-2.41,-1.32,-2.84,-1.02,-1.71,-2.53,-1.27,-2.36,-1.09,-1.44,-2.72,-1.87,-1.21,-2.47,-0.82,-1.61,-2.59,
  -2.31,-1.41,-2.62,-1.18,-1.58,-2.45,-1.06,-2.77,-1.36,-2.01,-1.23,-2.55,-1.47,-1.11,-2.38,-2.93,-1.30,-1.80,-2.68,-1.51,
  -1.26,-2.49,-1.03,-1.63,-2.35,-1.40,-2.73,-1.14,-2.56,-1.94,-1.47,-2.40,-1.08,-2.81,-1.32,-1.20,-2.63,-3.09,-1.55,-2.44,
  -2.56,-1.11,-1.41,-2.68,-1.24,-2.37,-1.57,-2.15,-1.01,-2.76,-1.35,-1.70,-2.46,-0.91,-1.23,-2.60,-1.45,-2.33,-1.16,-2.86,
  -1.43,-2.31,-1.10,-2.54,-1.60,-1.28,-2.66,-1.84,-1.05,-2.42,-1.38,-2.79,-1.19,-2.50,-1.53,-2.10,-1.31,-2.64,-2.99,-1.14,
  -2.40,-1.33,-2.70,-1.07,-1.49,-2.36,-1.22,-2.58,-1.65,-1.13,-2.47,-1.96,-1.37,-2.83,-1.02,-2.31,-1.56,-3.25,-1.27,-2.54,
  -1.17,-2.62,-1.51,-2.35,-1.09,-1.42,-2.74,-1.30,-2.49,-1.74,-1.15,-2.39,-1.60,-2.88,-1.24,-2.19,-0.84,-1.46,-2.59,-1.35,
  -2.48,-1.20,-1.63,-2.32,-1.04,-2.66,-1.41,-2.53,-1.11,-1.81,-2.44,-1.29,-2.77,-1.50,-1.16,-2.37,-2.01,-1.39,-2.61,-1.06,
  -1.55,-2.43,-1.14,-2.58,-1.32,-2.30,-1.03,-1.68,-2.72,-1.25,-2.50,-1.45,-2.91,-1.10,-1.90,-2.34,-1.37,-2.65,-1.21,-1.59,
  -2.35,-1.08,-2.55,-1.40,-1.23,-2.69,-1.53,-2.12,-1.17,-2.46,-1.34,-2.80,-1.00,-1.62,-2.39,-1.28,-3.03,-1.76,-2.52,-1.12,
  -1.31,-2.64,-1.47,-2.38,-1.05,-1.58,-2.49,-1.19,-2.75,-1.39,-1.93,-2.33,-1.09,-2.57,-1.52,-0.94,-2.42,-1.26,-2.70,-1.44
];

// flat green segments
const segStart = [2, 4, 2, 4];
const segEnd = [3, 5, 3, 5];
const segLevel = [-0.35, -0.35, -1.38, -1.9];
const bumpX = [2.12, 2.86, 4.36, 4.55];
const bumpY = [-1.33, -1.33, -1.85, -1.85];

// black bars below the axis
const barStart = [6.4, 6.4];
const barEnd = [10, 10];
const barLevel = [-6.11, -6.27];

const xMajor = [2, 4, 6, 8, 10];
const yMajor = [-1, -2, -3, -4, -5];

const width = 853, height = 525;
const x = d3.scaleLinear().domain([0, 10]).range([41, 838]);
const y = d3.scaleLinear().domain([-6, -1]).range([489, 78]);
const green = '#4a8a4a';
const font = '"DejaVu Sans", sans-serif';

const svg = d3.select('#chart').append('svg')
  .attr('width', width)
  .attr('height', height)
  .style('background', '#fff');

// axes
const xa = x.copy().domain([-0.18, 10.2]).range([x(-0.18), x(10.2)]);
const ya = y.copy().domain([-6.42, -0.17]).range([y(-6.42), y(-0.17)]);

const xMinor = d3.range(0.5, 10.01, 0.5).filter(v => v % 2 !== 0);
const yMinor = d3.range(-6.4, -0.1, 0.2).filter(v => Math.abs(v - Math.round(v)) > 0.01);

const gx = svg.append('g').attr('transform', `translate(0,${y(-6)})`);
gx.call(d3.axisBottom(xa).tickValues(xMajor).tickSizeInner(-7).tickSizeOuter(0).tickPadding(15).tickFormat(d3.format('d')));
gx.append('g').call(d3.axisBottom(xa).tickValues(xMinor).tickSizeInner(-3.5).tickSizeOuter(0).tickFormat(''))
  .select('.domain').remove();

const gy = svg.append('g').attr('transform', `translate(${x(0)},0)`);
gy.call(d3.axisLeft(ya).tickValues(yMajor).tickSizeInner(-8).tickSizeOuter(0).tickPadding(11).tickFormat(d3.format('d')));
gy.append('g').call(d3.axisLeft(ya).tickValues(yMinor).tickSizeInner(-4).tickSizeOuter(0).tickFormat(''))
  .select('.domain').remove();

svg.selectAll('.domain, .tick line').attr('stroke', '#222').attr('stroke-width', 1);
svg.selectAll('.tick text')
  .attr('font-family', font)
  .attr('font-size', 13.5)
  .attr('fill', '#444');

// scatter
const pts = [[aX, aY], [bX, bY], [cX, cY]].flatMap(([xs, ys]) =>
  d3.range(Math.min(xs.length, ys.length)).map(i => [xs[i], ys[i]]));

svg.append('g')
  .selectAll('circle')
  .data(pts)
  .join('circle')
  .attr('cx', d => x(d[0]))
  .attr('cy', d => y(d[1]))
  .attr('r', 4.2)
  .attr('fill', '#000');

// green segments: halo then black core
const segs = segStart.map((s, i) => ({ s, e: segEnd[i], v: segLevel[i] }));
const gs = svg.append('g');
gs.selectAll('line.halo')
  .data(segs)
  .join('line')
  .attr('class', 'halo')
  .attr('x1', d => x(d.s) + 4)
  .attr('x2', d => x(d.e) - 4)
  .attr('y1', d => y(d.v))
  .attr('y2', d => y(d.v))
  .attr('stroke', green)
  .attr('stroke-width', 19)
  .attr('stroke-linecap', 'round');
gs.selectAll('circle.bump')
  .data(bumpX.map((b, i) => [b, bumpY[i]]))
  .join('circle')
  .attr('class', 'bump')
  .attr('cx', d => x(d[0]))
  .attr('cy', d => y(d[1]))
  .attr('r', 6)
  .attr('fill', '#000')
  .attr('stroke', green)
  .attr('stroke-width', 3);
gs.selectAll('line.core')
  .data(segs)
  .join('line')
  .attr('class', 'core')
  .attr('x1', d => x(d.s) + 4)
  .attr('x2', d => x(d.e) - 4)
  .attr('y1', d => y(d.v))
  .attr('y2', d => y(d.v))
  .attr('stroke', '#000')
  .attr('stroke-width', 10)
  .attr('stroke-linecap', 'round');

// bars under the axis
svg.append('g')
  .selectAll('line')
  .data(barStart.map((s, i) => ({ s, e: barEnd[i], v: barLevel[i] })))
  .join('line')
  .attr('x1', d => x(d.s))
  .attr('x2', d => x(d.e))
  .attr('y1', d => y(d.v))
  .attr('y2', d => y(d.v))
  .attr('stroke', '#000')
  .attr('stroke-width', 7)
  .attr('stroke-linecap', 'round');
</script>
</body>
</html>
